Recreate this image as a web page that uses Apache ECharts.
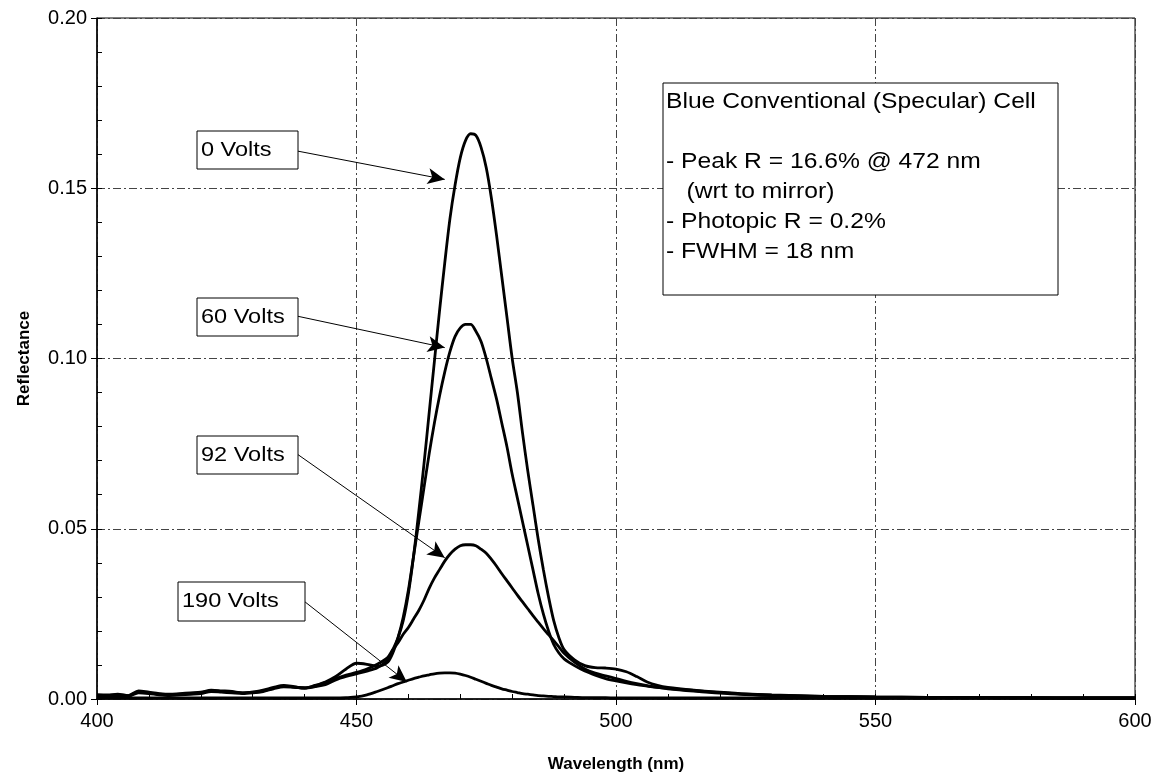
<!DOCTYPE html>
<html>
<head>
<meta charset="utf-8">
<script src="https://cdn.jsdelivr.net/npm/echarts@6/dist/echarts.min.js"></script>
<style>
html, body { margin: 0; padding: 0; background: #fff; }
#chart { width: 1155px; height: 781px; }
</style>
</head>
<body>
<div id="chart"></div>
<script>
// wavelength (nm) sample points
var wavelength = [400,402,404,406,408,410,412,414,416,418,420,422,424,426,428,430,432,434,436,438,440,442,444,446,448,450,452,454,456,
	457,458,459,460,461,462,463,464,465,466,467,468,469,470,471,472,473,474,475,476,477,478,479,480,481,482,483,484,485,486,487,488,489,490,
	492,494,496,498,500,502,504,506,508,510,
	515,520,525,530,
	540,550,560,570,580,590,600];

var volts0 = [0.0012,0.0012,0.0014,0.0010,0.0024,0.0020,0.0016,0.0014,0.0016,0.0018,0.0020,0.0026,0.0024,0.0022,0.0018,0.0020,0.0026,0.0034,0.0040,0.0036,0.0032,0.0036,0.0042,0.0056,0.0066,0.0074,0.0082,0.0092,0.0115,
	0.0145,0.018,0.023,0.031,0.042,0.055,0.069,0.084,0.099,0.114,0.128,0.141,0.151,0.159,0.164,0.166,0.1655,0.162,0.156,0.147,0.136,0.124,0.112,0.100,0.090,0.078,0.067,0.057,0.047,0.038,0.030,0.023,0.018,0.0145,
	0.0115,0.0098,0.0092,0.0091,0.0088,0.0080,0.0066,0.0050,0.0040,0.0034,
	0.0026,0.0020,0.0015,0.0012,
	0.0008,0.0006,0.0005,0.0004,0.0004,0.0003,0.0003];

var volts60 = [0.0010,0.0008,0.0010,0.0008,0.0018,0.0016,0.0012,0.0010,0.0012,0.0014,0.0016,0.0022,0.0020,0.0018,0.0016,0.0018,0.0022,0.0030,0.0036,0.0034,0.0032,0.0040,0.0050,0.0066,0.0088,0.0105,0.0102,0.0096,0.0108,
	0.0135,0.018,0.024,0.032,0.042,0.052,0.062,0.072,0.081,0.089,0.096,0.102,0.1065,0.109,0.110,0.110,0.108,0.105,0.100,0.094,0.088,0.081,0.074,0.066,0.059,0.052,0.045,0.038,0.031,0.025,0.020,0.016,0.0135,0.0118,
	0.0098,0.0082,0.0070,0.0060,0.0053,0.0047,0.0042,0.0038,0.0034,0.0031,
	0.0025,0.0019,0.0014,0.0011,
	0.0008,0.0006,0.0005,0.0004,0.0004,0.0003,0.0003];

var volts92 = [0.0012,0.0010,0.0012,0.0010,0.0020,0.0018,0.0014,0.0012,0.0014,0.0016,0.0018,0.0024,0.0022,0.0020,0.0018,0.0020,0.0024,0.0032,0.0038,0.0035,0.0033,0.0038,0.0048,0.0060,0.0070,0.0078,0.0088,0.0102,0.0122,
	0.0145,0.0165,0.019,0.021,0.0235,0.026,0.029,0.0325,0.0355,0.038,0.0405,0.0425,0.044,0.045,0.0453,0.0453,0.045,0.044,0.0428,0.041,0.039,0.0368,0.0347,0.0326,0.0305,0.0285,0.0265,0.0245,0.0226,0.0207,0.0189,0.0171,0.0153,0.0134,
	0.0108,0.0088,0.0076,0.0068,0.0060,0.0052,0.0045,0.0039,0.0034,0.0030,
	0.0023,0.0017,0.0013,0.0010,
	0.0007,0.0005,0.0004,0.0004,0.0003,0.0003,0.0003];

var volts190 = [0.0003,0.0003,0.0003,0.0003,0.0003,0.0003,0.0003,0.0003,0.0003,0.0003,0.0003,0.0003,0.0003,0.0003,0.0003,0.0003,0.0003,0.0003,0.0003,0.0003,0.0003,0.0003,0.0003,0.0003,0.0004,0.0006,0.0012,0.0022,0.0033,
	0.0039,0.0045,0.0050,0.0055,0.0060,0.0064,0.0068,0.0071,0.0074,0.0076,0.0077,0.0077,0.0076,0.0073,0.0069,0.0064,0.0058,0.0052,0.0046,0.0040,0.0035,0.0030,0.0026,0.0022,0.0019,0.0016,0.0014,0.0012,0.0010,0.0009,0.0008,0.0007,0.0006,0.0006,
	0.0005,0.0004,0.0004,0.0004,0.0003,0.0003,0.0003,0.0003,0.0003,0.0003,
	0.0003,0.0003,0.0003,0.0003,
	0.0003,0.0003,0.0003,0.0003,0.0003,0.0003,0.0003];

var xTicks = [400, 450, 500, 550, 600];
var yTicks = [0.00, 0.05, 0.10, 0.15, 0.20];

// arrows: label, from [nm, R], to [nm, R]
var arrowNames = ['0 Volts', '60 Volts', '92 Volts', '190 Volts'];
var arrowFrom = [[438.7, 0.1609], [438.7, 0.1124], [438.7, 0.0718], [440.1, 0.0285]];
var arrowTo = [[467.0, 0.1526], [467.0, 0.1032], [467.0, 0.0415], [459.7, 0.0050]];

var infoLines = [
	'Blue Conventional (Specular) Cell',
	'',
	'- Peak R = 16.6% @ 472 nm',
	'   (wrt to mirror)',
	'- Photopic R = 0.2%',
	'- FWHM = 18 nm'
];

function pairs(vals) {
	var out = [];
	for (var i = 0; i < wavelength.length; i++) {
		out.push([wavelength[i], vals[i]]);
	}
	return out;
}

var font = 'Arial, "Liberation Sans", sans-serif';
var gridLine = { show: true, lineStyle: { color: '#444', width: 1, type: [8, 3, 2, 3] } };

var myChart = echarts.init(document.getElementById('chart'));

var arrows = [];
for (var i = 0; i < arrowFrom.length; i++) {
	arrows.push([{ coord: arrowFrom[i] }, { coord: arrowTo[i] }]);
}

function makeLine(name, vals, withArrows) {
	var s = {
		name: name,
		type: 'line',
		data: pairs(vals),
		showSymbol: false,
		smooth: 0.3,
		lineStyle: { color: '#000', width: 2.8 },
		z: 3
	};
	if (withArrows) {
		s.markLine = {
			silent: true,
			symbol: ['none', 'arrow'],
			symbolSize: [12, 17],
			label: { show: false },
			lineStyle: { color: '#000', width: 1, type: 'solid' },
			data: arrows
		};
	}
	return s;
}

// label boxes in pixels (annotation only)
var boxes = [
	{ x: 197, y: 131, w: 101, h: 38 },
	{ x: 197, y: 298, w: 101, h: 38 },
	{ x: 197, y: 436, w: 101, h: 38 },
	{ x: 178, y: 582, w: 127, h: 39 }
];
var graphics = [];
for (var j = 0; j < boxes.length; j++) {
	graphics.push({
		type: 'rect',
		shape: { x: boxes[j].x, y: boxes[j].y, width: boxes[j].w, height: boxes[j].h },
		style: { fill: '#fff', stroke: '#000', lineWidth: 1 },
		z: 10
	});
	graphics.push({
		type: 'text',
		x: boxes[j].x + 4,
		y: boxes[j].y + boxes[j].h / 2,
		scaleX: 1.12,
		style: { text: arrowNames[j], font: '21px ' + font, fill: '#000', verticalAlign: 'middle' },
		z: 11
	});
}
graphics.push({
	type: 'rect',
	shape: { x: 663, y: 83, width: 395, height: 212 },
	style: { fill: '#fff', stroke: '#000', lineWidth: 1 },
	z: 10
});
graphics.push({
	type: 'text',
	x: 666,
	y: 87,
	scaleX: 1.12,
	style: { text: infoLines.join('\n'), font: '22px ' + font, lineHeight: 30, fill: '#000', verticalAlign: 'top' },
	z: 11
});

var option = {
	backgroundColor: '#fff',
	animation: false,
	grid: {
		left: 97, right: 20, top: 18, bottom: 82,
		show: true, borderColor: '#000', borderWidth: 1, backgroundColor: 'transparent'
	},
	xAxis: [{
		type: 'value',
		min: xTicks[0], max: xTicks[xTicks.length - 1], interval: 50,
		name: 'Wavelength (nm)', nameLocation: 'middle', nameGap: 57,
		nameTextStyle: { fontFamily: font, fontSize: 17, fontWeight: 'bold', color: '#000' },
		axisLine: { show: true, onZero: false, lineStyle: { color: '#000', width: 1.5 } },
		axisTick: { show: true, inside: false, length: 6, lineStyle: { color: '#000' } },
		axisLabel: { fontFamily: font, fontSize: 20, color: '#000', margin: 12 },
		splitLine: gridLine
	}, {
		type: 'value', position: 'bottom',
		min: xTicks[0], max: xTicks[xTicks.length - 1], interval: 10,
		axisLine: { show: false },
		axisTick: { show: true, inside: true, length: 5, lineStyle: { color: '#000' } },
		axisLabel: { show: false },
		splitLine: { show: false }
	}],
	yAxis: [{
		type: 'value',
		min: yTicks[0], max: yTicks[yTicks.length - 1], interval: 0.05,
		name: 'Reflectance', nameLocation: 'middle', nameGap: 64,
		nameTextStyle: { fontFamily: font, fontSize: 17, fontWeight: 'bold', color: '#000' },
		axisLine: { show: true, onZero: false, lineStyle: { color: '#000', width: 1.5 } },
		axisTick: { show: true, inside: false, length: 6, lineStyle: { color: '#000' } },
		axisLabel: { fontFamily: font, fontSize: 20, color: '#000', margin: 10,
			formatter: function (v) { return v.toFixed(2); } },
		splitLine: gridLine
	}, {
		type: 'value', position: 'left',
		min: yTicks[0], max: yTicks[yTicks.length - 1], interval: 0.01,
		axisLine: { show: false },
		axisTick: { show: true, inside: true, length: 5, lineStyle: { color: '#000' } },
		axisLabel: { show: false },
		splitLine: { show: false }
	}],
	series: [
		makeLine('0 Volts', volts0, true),
		makeLine('60 Volts', volts60, false),
		makeLine('92 Volts', volts92, false),
		makeLine('190 Volts', volts190, false)
	],
	graphic: graphics
};

myChart.setOption(option);
</script>
</body>
</html>
